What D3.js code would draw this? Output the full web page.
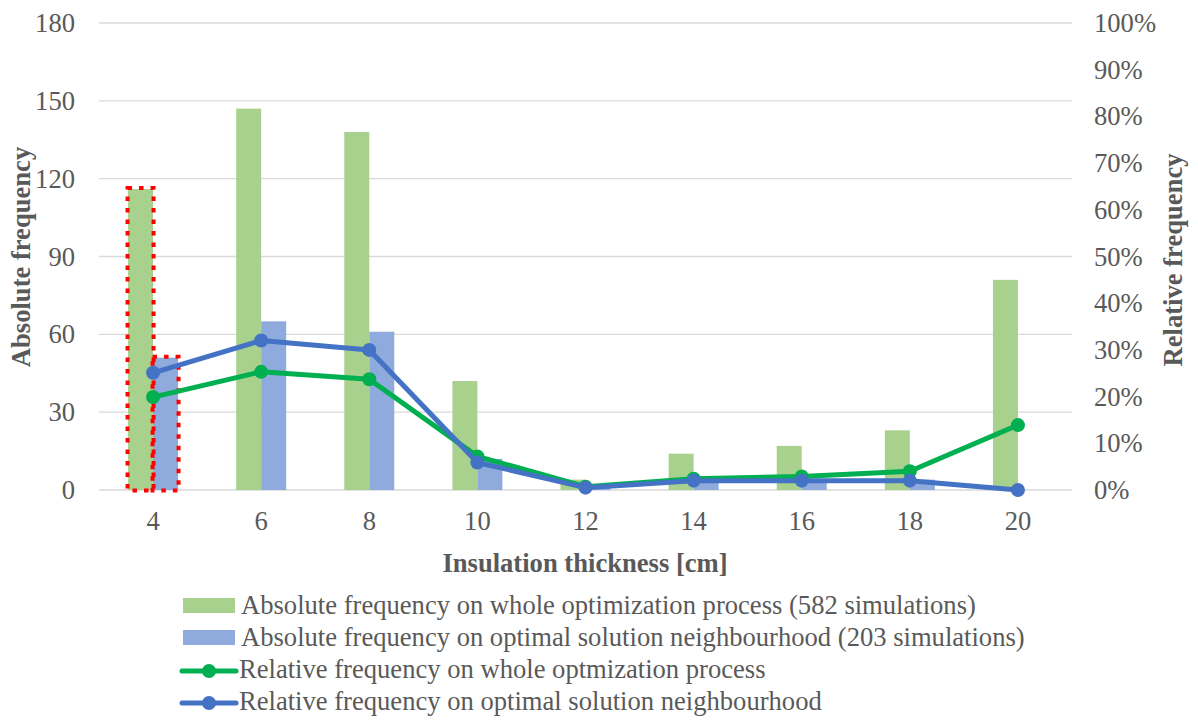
<!DOCTYPE html>
<html><head><meta charset="utf-8">
<script src="https://cdn.jsdelivr.net/npm/d3@7"></script>
<style>body{margin:0;background:#fff;}</style>
</head><body><svg id="c" width="1198" height="720"></svg>
<script>
const categories = ["4","6","8","10","12","14","16","18","20"];
const absWhole = [116,147,138,42,4,14,17,23,81];
const absOptimal = [51,65,61,12,1,4,4,4,0];
const relWhole = [19.9,25.3,23.7,7.2,0.7,2.4,2.9,4.0,13.9];
const relOptimal = [25.1,32.0,30.0,5.9,0.5,2.0,2.0,2.0,0];
const leftTicks = [0,30,60,90,120,150,180];
const rightTicks = [0,10,20,30,40,50,60,70,80,90,100];
const highlighted = ["4"];
const legendLabels = ["Absolute frequency on whole optimization process (582 simulations)",
 "Absolute frequency on optimal solution neighbourhood (203 simulations)",
 "Relative frequency on whole optmization process",
 "Relative frequency on optimal solution neighbourhood"];

const FONT = "Liberation Serif";
const FS = "26.6px";
const C = {gBar:"#A9D18E", bBar:"#8FAADC", gLine:"#00B050", bLine:"#4472C4", grid:"#D9D9D9", text:"#595959"};
const svg = d3.select("#c");
const L=99, R=1072, T=23, B=490;
const x = d3.scaleBand().domain(categories).range([L,R]).paddingInner(0.53).paddingOuter(0.265);
const yL = d3.scaleLinear().domain([0,180]).range([B,T]);
const yR = d3.scaleLinear().domain([0,100]).range([B,T]);

function styleText(sel){
  sel.attr("font-family",FONT).style("font-family",FONT).style("font-size",FS).attr("fill",C.text).style("fill",C.text);
}

// grid
svg.append("g").selectAll("line").data(leftTicks).join("line")
 .attr("x1",L).attr("x2",R).attr("y1",d=>yL(d)).attr("y2",d=>yL(d))
 .attr("stroke",C.grid).attr("stroke-width",1.3);

const la = svg.append("g").attr("transform",`translate(${L},0)`)
 .call(d3.axisLeft(yL).tickValues(leftTicks).tickSize(0).tickPadding(24));
la.select(".domain").remove();
la.selectAll("text").call(styleText);

const ra = svg.append("g").attr("transform",`translate(${R},0)`)
 .call(d3.axisRight(yR).tickValues(rightTicks).tickSize(0).tickPadding(22).tickFormat(d=>d+"%"));
ra.select(".domain").remove();
ra.selectAll("text").call(styleText);

const xa = svg.append("g").attr("transform",`translate(0,${B})`)
 .call(d3.axisBottom(x).tickSize(0).tickPadding(21));
xa.select(".domain").remove();
xa.selectAll("text").call(styleText);

// bars
const bw = 25;
svg.append("g").selectAll("rect").data(categories).join("rect")
 .attr("x",d=>x(d)+x.bandwidth()/2-bw).attr("width",bw)
 .attr("y",(d,i)=>yL(absWhole[i])).attr("height",(d,i)=>B-yL(absWhole[i])).attr("fill",C.gBar);
svg.append("g").selectAll("rect").data(categories).join("rect")
 .attr("x",d=>x(d)+x.bandwidth()/2).attr("width",bw)
 .attr("y",(d,i)=>yL(absOptimal[i])).attr("height",(d,i)=>B-yL(absOptimal[i])).attr("fill",C.bBar);

// highlight boxes
highlighted.forEach(c=>{
  const i = categories.indexOf(c);
  [[absWhole[i],-bw],[absOptimal[i],0]].forEach(([v,off])=>{
    svg.append("rect").attr("x",x(c)+x.bandwidth()/2+off-0.5).attr("width",bw+1)
     .attr("y",yL(v)-1).attr("height",B-yL(v)+1.5)
     .attr("fill","none").attr("stroke","#FF0000").attr("stroke-width",4).attr("stroke-dasharray","4.5,7");
  });
});

// lines
const cx = d=>x(d)+x.bandwidth()/2;
[[relWhole,C.gLine],[relOptimal,C.bLine]].forEach(([vals,col])=>{
  const line = d3.line().x((d,i)=>cx(categories[i])).y(d=>yR(d));
  svg.append("path").datum(vals).attr("d",line).attr("fill","none").attr("stroke",col).attr("stroke-width",5).attr("stroke-linejoin","round");
  svg.append("g").selectAll("circle").data(vals).join("circle")
   .attr("cx",(d,i)=>cx(categories[i])).attr("cy",d=>yR(d)).attr("r",7).attr("fill",col);
});

// axis titles
svg.append("text").attr("transform","translate(30,257) rotate(-90)").attr("text-anchor","middle")
 .call(styleText).style("font-weight","bold").text("Absolute frequency");
svg.append("text").attr("transform","translate(1182,260) rotate(-90)").attr("text-anchor","middle")
 .call(styleText).style("font-weight","bold").text("Relative frequency");
svg.append("text").attr("x",585).attr("y",572).attr("text-anchor","middle")
 .call(styleText).style("font-weight","bold").text("Insulation thickness [cm]");

// legend
const lg = svg.append("g");
const ly = [605,637,669,701];
[C.gBar,C.bBar].forEach((col,i)=>{
  lg.append("rect").attr("x",183).attr("y",ly[i]-7).attr("width",52).attr("height",15).attr("fill",col);
});
[C.gLine,C.bLine].forEach((col,i)=>{
  const y=ly[i+2]+2;
  lg.append("line").attr("x1",182).attr("x2",236).attr("y1",y).attr("y2",y).attr("stroke",col).attr("stroke-width",5).attr("stroke-linecap","round");
  lg.append("circle").attr("cx",209).attr("cy",y).attr("r",7).attr("fill",col);
});
legendLabels.forEach((t,i)=>{
  lg.append("text").attr("x",i<2?241:239).attr("y",ly[i]+9).call(styleText).text(t);
});
</script></body></html>
